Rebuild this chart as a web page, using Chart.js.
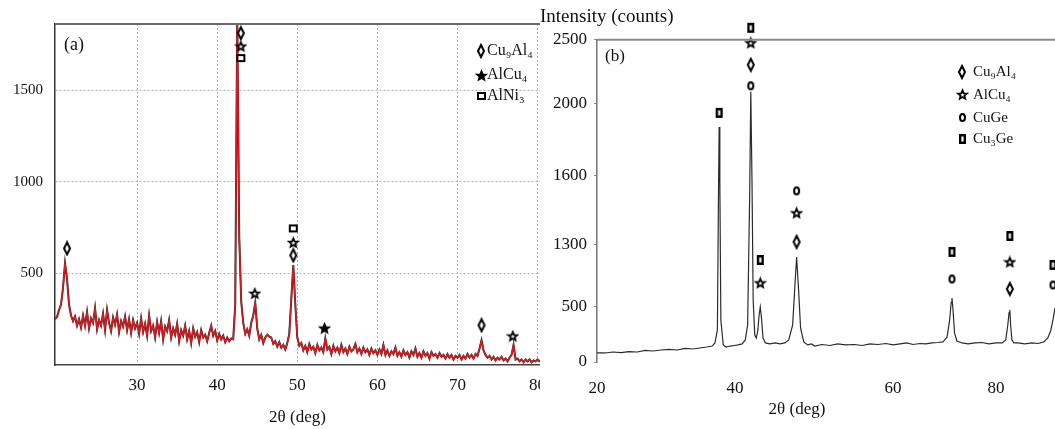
<!DOCTYPE html>
<html lang="en">
<head>
<meta charset="UTF-8">
<title>XRD patterns (a) and (b)</title>
<script src="https://cdn.jsdelivr.net/npm/chart.js"></script>
<style>
    body { margin: 0; background: #fff; }
    #wrap { position: relative; width: 1055px; height: 429px; overflow: hidden; }
    #chartA { position: absolute; left: 0; top: 0; }
    #chartB { position: absolute; left: 540px; top: 0; }
</style>
</head>
<body>
<div id="wrap">
    <canvas id="chartA" width="540" height="429"></canvas>
    <canvas id="chartB" width="515" height="429"></canvas>
</div>
<script>
// ---------- panel (a): step scan, 0.25 deg per step ----------
const scanStartA = 19.75;
const scanStepA = 0.25;
const countsA = [
    250, 262, 300, 330, 420, 555, 470, 330,   // 19.75
    270, 240, 265, 215, 250, 205, 270, 215,   // 21.75
    290, 200, 255, 230, 310, 195, 245, 215,   // 23.75
    280, 190, 300, 230, 185, 260, 220, 275,   // 25.75
    180, 240, 210, 265, 190, 250, 175, 245,   // 27.75
    200, 230, 170, 255, 180, 225, 160, 270,   // 29.75
    185, 215, 150, 235, 175, 240, 140, 210,   // 31.75
    185, 245, 150, 200, 165, 225, 130, 190,   // 33.75
    160, 215, 140, 185, 120, 200, 155, 180,   // 35.75
    125, 190, 150, 165, 130, 175, 215, 160,   // 37.75
    185, 135, 170, 140, 160, 125, 150, 130,   // 39.75
    145, 140, 330, 1900, 700, 345, 230, 170,  // 41.75
    195, 160, 230, 270, 340, 200, 140, 165,   // 43.75
    120, 150, 165, 155, 150, 115, 130, 100,   // 45.75
    125, 95, 110, 85, 120, 170, 360, 545,     // 47.75
    330, 150, 105, 120, 80, 105, 70, 115,     // 49.75
    85, 100, 65, 110, 80, 95, 70, 145,        // 51.75
    85, 100, 60, 105, 75, 95, 65, 110,        // 53.75
    70, 90, 60, 100, 75, 85, 115, 70,         // 55.75
    90, 60, 95, 70, 85, 55, 90, 65,           // 57.75
    80, 55, 85, 60, 110, 55, 80, 50,          // 59.75
    75, 60, 95, 50, 70, 45, 80, 55,           // 61.75
    70, 40, 75, 55, 90, 45, 65, 40,           // 63.75
    75, 50, 65, 35, 70, 50, 60, 40,           // 65.75
    65, 45, 55, 35, 60, 40, 55, 30,           // 67.75
    50, 40, 55, 30, 50, 35, 60, 40,           // 69.75
    55, 35, 60, 50, 90, 135, 80, 55,          // 71.75
    40, 50, 30, 45, 25, 40, 30, 45,           // 73.75
    25, 35, 20, 40, 55, 110, 30, 35,          // 75.75
    20, 30, 15, 30, 20, 30, 15, 25,           // 77.75
    20, 30, 20, 25                            // 79.75
];
const ticksXA = [30, 40, 50, 60, 70, 80];
const ticksYA = [500, 1000, 1500];
const phasesA = ['Cu₉Al₄', 'AlCu₄', 'AlNi₃'];
const cu9al4A = [[21.25, 636], [42.95, 1810], [49.5, 598], [73.0, 217]];
const alcu4A = [[42.95, 1739], [44.7, 391], [49.5, 668], [53.4, 201], [76.9, 158]];
const alni3A = [[42.95, 1674], [49.5, 745]];

// ---------- panel (b) ----------
const anglesB = [
    20.0, 21.2, 22.3, 23.5, 24.6, 25.8, 27.0, 28.1, 29.3, 30.4, 31.6, 32.8, 33.9, 34.9, 35.9, 36.7,
    37.1, 37.45, 37.6, 37.7, 37.8, 37.95, 38.3, 38.7, 39.3, 39.9, 40.4, 40.9,
    41.3, 41.6, 41.85, 42.0, 42.15, 42.3, 42.5, 42.7, 42.9, 43.05, 43.2, 43.35, 43.55, 43.85,
    44.4, 45.1, 45.7, 46.3, 46.8, 47.3, 47.55, 47.8, 48.05, 48.3, 48.7, 49.2, 49.7,
    50.1, 51.0, 52.0, 53.0, 54.0, 55.1, 56.1, 57.1, 58.1, 59.1, 60.0, 61.4, 62.7, 63.9,
    65.2, 66.4, 67.6, 68.7, 69.7, 70.5, 71.0, 71.3, 71.45, 71.65, 71.95, 72.4,
    73.4, 74.6, 75.9, 77.3, 78.6, 80.0, 81.2, 81.9, 82.3, 82.55, 82.7, 82.85, 83.1, 83.5,
    84.3, 85.6, 87.0, 88.2, 89.3, 90.1, 90.7, 91.1, 91.5, 91.8
];
const countsB = [
    82, 82, 91, 86, 95, 91, 105, 100, 109, 114, 109, 123, 118, 127, 136, 145,
    173, 291, 1496, 1872, 1583, 382, 155, 136, 145, 150, 155, 164,
    200, 336, 1496, 2094, 1583, 590, 245, 218, 291, 427, 500, 400, 218, 173,
    164, 173, 164, 173, 200, 336, 719, 1145, 719, 309, 182, 155, 164,
    145, 159, 150, 164, 155, 159, 150, 164, 159, 168, 155, 164, 173, 159,
    168, 164, 173, 177, 182, 227, 382, 560, 616, 473, 264, 191,
    173, 164, 173, 177, 164, 173, 173, 200, 336, 450, 473, 336, 200, 173,
    173, 164, 173, 168, 182, 218, 291, 382, 491, 848
];
const ticksXB = [20, 40, 60, 80];
const ticksYB = [0, 500, 1300, 1600, 2000, 2500];
const phasesB = ['Cu₉Al₄', 'AlCu₄', 'CuGe', 'Cu₃Ge'];
const cu9al4B = [[42.0, 2305], [47.8, 1313], [82.7, 732]];
const alcu4B = [[42.0, 2476], [43.2, 810], [47.8, 1439], [82.7, 1081]];
const cugeB = [[42.0, 2141], [47.8, 1535], [71.45, 861], [91.1, 784]];
const cu3geB = [[37.7, 1950], [42.0, 2594], [43.2, 1106], [71.45, 1210], [82.7, 1339], [91.1, 1042]];

// ---------- shared helpers ----------
const serif = '"Liberation Serif", "Times New Roman", serif';
Chart.defaults.font.family = serif;
Chart.defaults.color = '#111';

// the printed axes of panel (b) are not evenly spaced, so the scale maps
// between the printed tick values piece by piece
class PiecewiseScale extends Chart.LinearScale {
    static id = 'piecewise';
    buildTicks() {
        return this.options.tickValues.map(v => ({ value: v }));
    }
    getPixelForValue(value) {
        if (value === null || value === undefined) return NaN;
        const s = this.options.stops, f = this.options.fractions;
        let i = 1;
        while (i < s.length - 1 && value > s[i]) i++;
        const d = f[i - 1] + (value - s[i - 1]) / (s[i] - s[i - 1]) * (f[i] - f[i - 1]);
        return this.getPixelForDecimal(d);
    }
    getValueForPixel(pixel) {
        const d = this.getDecimalForPixel(pixel);
        const s = this.options.stops, f = this.options.fractions;
        let i = 1;
        while (i < f.length - 1 && d > f[i]) i++;
        return s[i - 1] + (d - f[i - 1]) / (f[i] - f[i - 1]) * (s[i] - s[i - 1]);
    }
}
Chart.register(PiecewiseScale);

function marker(shape, w, h, lw, fill) {
    const c = document.createElement('canvas');
    c.width = w + 2;
    c.height = h + 2;
    const g = c.getContext('2d');
    g.translate(1, 1);
    g.lineWidth = lw;
    g.strokeStyle = '#000';
    g.fillStyle = fill || '#fff';
    g.beginPath();
    if (shape === 'diamond') {
        g.moveTo(w / 2, lw / 2);
        g.lineTo(w - lw / 2, h / 2);
        g.lineTo(w / 2, h - lw / 2);
        g.lineTo(lw / 2, h / 2);
        g.closePath();
    } else if (shape === 'circle') {
        g.ellipse(w / 2, h / 2, w / 2 - lw / 2, h / 2 - lw / 2, 0, 0, Math.PI * 2);
    } else if (shape === 'square') {
        g.rect(lw / 2, lw / 2, w - lw, h - lw);
    } else if (shape === 'star') {
        const ro = w / 2 - lw / 2, ri = ro * 0.45;
        for (let i = 0; i < 10; i++) {
            const r = i % 2 ? ri : ro;
            const ang = -Math.PI / 2 + i * Math.PI / 5;
            const px = w / 2 + r * Math.cos(ang), py = h / 2 + ro * 0.1 + r * Math.sin(ang);
            if (i === 0) g.moveTo(px, py); else g.lineTo(px, py);
        }
        g.closePath();
    }
    g.fill();
    g.stroke();
    return c;
}

const pts = arr => arr.map(([x, y]) => ({ x, y }));

// big radius only widens the "in area" test so markers just above the frame still draw
function markerSet(data, style) {
    return { data: pts(data), pointStyle: style, pointRadius: 20, clip: false, order: 0 };
}

// panel letter, free text and in-plot legend, placed from the plot area corner
function annotations(cfg) {
    return {
        id: 'annotations',
        afterDatasetsDraw(chart) {
            const { ctx, chartArea: a } = chart;
            ctx.save();
            if (cfg.topLine) {
                ctx.strokeStyle = cfg.topLine.color;
                ctx.lineWidth = cfg.topLine.width;
                ctx.beginPath();
                ctx.moveTo(a.left, a.top);
                ctx.lineTo(chart.width, a.top);
                ctx.stroke();
            }
            ctx.fillStyle = '#111';
            ctx.textBaseline = 'middle';
            (cfg.texts || []).forEach(t => {
                ctx.font = t.font;
                ctx.textAlign = t.align || 'left';
                ctx.fillText(t.text, a.left + t.dx, a.top + t.dy);
            });
            ctx.font = cfg.legendFont;
            ctx.textAlign = 'left';
            cfg.legend.forEach((item, i) => {
                const y = a.top + cfg.legendRows[i];
                const m = item.marker;
                ctx.drawImage(m, Math.round(a.left + cfg.legendMarkerX - m.width / 2), Math.round(y - m.height / 2));
                ctx.fillText(item.label, a.left + cfg.legendTextX, y);
            });
            ctx.restore();
        }
    };
}

// ---------- panel (a) ----------
const diamondA = marker('diamond', 8, 14, 2);
const starA = marker('star', 11, 11, 1.8);
const starFilledA = marker('star', 11, 11, 1.8, '#000');
const squareA = marker('square', 9, 8, 2);

const lineA = countsA.map((c, i) => ({ x: scanStartA + i * scanStepA, y: c }));
const starStylesA = alcu4A.map(p => (p[0] > 53 && p[0] < 54 ? starFilledA : starA));

new Chart(document.getElementById('chartA'), {
    type: 'scatter',
    data: {
        datasets: [
            { data: lineA, showLine: true, borderColor: '#2a2a2a', borderWidth: 2.0, pointRadius: 0, order: 3 },
            { data: lineA, showLine: true, borderColor: '#dc1a1e', borderWidth: 1.4, pointRadius: 0, order: 2 },
            markerSet(cu9al4A, diamondA),
            markerSet(alcu4A, starStylesA),
            markerSet(alni3A, squareA)
        ]
    },
    options: {
        responsive: false,
        animation: false,
        events: [],
        layout: { autoPadding: false, padding: { top: 24, right: 0, bottom: 0, left: 0 } },
        plugins: { legend: { display: false }, tooltip: { enabled: false } },
        scales: {
            x: {
                type: 'linear', min: 19.75, max: 80.3,
                afterBuildTicks: s => { s.ticks = ticksXA.map(v => ({ value: v })); },
                afterFit: s => { s.height = 64; s.paddingLeft = 0; s.paddingRight = 0; },
                grid: { color: '#b0b0b0', lineWidth: 1, drawTicks: false },
                border: { color: '#444', width: 1.5, dash: [2, 2] },
                ticks: { font: { size: 17 }, padding: 10, maxRotation: 0, autoSkip: false, callback: v => String(v) },
                title: { display: true, text: '2θ (deg)', font: { size: 17 }, padding: { top: 0, bottom: 1 } }
            },
            y: {
                min: 0, max: 1860,
                afterBuildTicks: s => { s.ticks = ticksYA.map(v => ({ value: v })); },
                afterFit: s => { s.width = 55; },
                grid: { color: '#b0b0b0', lineWidth: 1, drawTicks: false },
                border: { color: '#333', width: 1.5, dash: [2, 2] },
                ticks: { font: { size: 15 }, padding: 12, callback: v => String(v) }
            }
        }
    },
    plugins: [annotations({
        topLine: { color: '#6a6a6a', width: 2 },
        texts: [{ text: '(a)', dx: 9, dy: 21, font: '18px ' + serif }],
        legendFont: '16px ' + serif,
        legendMarkerX: 426,
        legendTextX: 432,
        legendRows: [27, 51, 72],
        legend: [
            { marker: diamondA, label: phasesA[0] },
            { marker: starFilledA, label: phasesA[1] },
            { marker: squareA, label: phasesA[2] }
        ]
    })]
});

// ---------- panel (b) ----------
const diamondB = marker('diamond', 8, 14, 2);
const starB = marker('star', 11, 11, 1.8);
const circleB = marker('circle', 7, 9, 2);
const squareB = marker('square', 7, 10, 2.4);

const lineB = anglesB.map((a, i) => ({ x: a, y: countsB[i] }));

new Chart(document.getElementById('chartB'), {
    type: 'scatter',
    data: {
        datasets: [
            { data: lineB, showLine: true, borderColor: '#2b2b2b', borderWidth: 1.2, pointRadius: 0, order: 2 },
            markerSet(cu9al4B, diamondB),
            markerSet(alcu4B, starB),
            markerSet(cugeB, circleB),
            markerSet(cu3geB, squareB)
        ]
    },
    options: {
        responsive: false,
        animation: false,
        events: [],
        layout: { autoPadding: false, padding: 0 },
        plugins: {
            legend: { display: false },
            tooltip: { enabled: false },
            title: {
                display: true, text: 'Intensity (counts)', align: 'start',
                font: { size: 19, weight: 'normal' }, color: '#111',
                padding: { top: 6, bottom: 11 }
            }
        },
        scales: {
            x: {
                type: 'piecewise', min: 20, max: 91.5,
                stops: [20, 40, 60, 80, 91.5],
                fractions: [0, 0.3013, 0.6463, 0.8712, 1],
                tickValues: ticksXB,
                afterFit: s => { s.height = 67; s.paddingLeft = 0; s.paddingRight = 0; },
                grid: { display: false },
                border: { display: false },
                ticks: { font: { size: 17 }, padding: 8, maxRotation: 0, autoSkip: false, callback: v => String(v) }
            },
            y: {
                type: 'piecewise', min: 0, max: 2500,
                stops: ticksYB,
                fractions: [0, 0.1708, 0.3634, 0.5776, 0.8012, 1],
                tickValues: ticksYB,
                afterFit: s => { s.width = 57; },
                grid: { drawOnChartArea: false, drawTicks: true, tickLength: 3, tickColor: '#888' },
                border: { color: '#777', width: 1.5 },
                ticks: { font: { size: 17 }, padding: 7, callback: v => String(v) }
            }
        }
    },
    plugins: [annotations({
        topLine: { color: '#8a8a8a', width: 2 },
        texts: [
            { text: '(b)', dx: 8, dy: 17, font: '17px ' + serif },
            { text: '2θ (deg)', dx: 200, dy: 370, font: '17px ' + serif, align: 'center' }
        ],
        legendFont: '15px ' + serif,
        legendMarkerX: 365,
        legendTextX: 376,
        legendRows: [32, 55, 78, 99],
        legend: [
            { marker: diamondB, label: phasesB[0] },
            { marker: starB, label: phasesB[1] },
            { marker: circleB, label: phasesB[2] },
            { marker: squareB, label: phasesB[3] }
        ]
    })]
});
</script>
</body>
</html>
